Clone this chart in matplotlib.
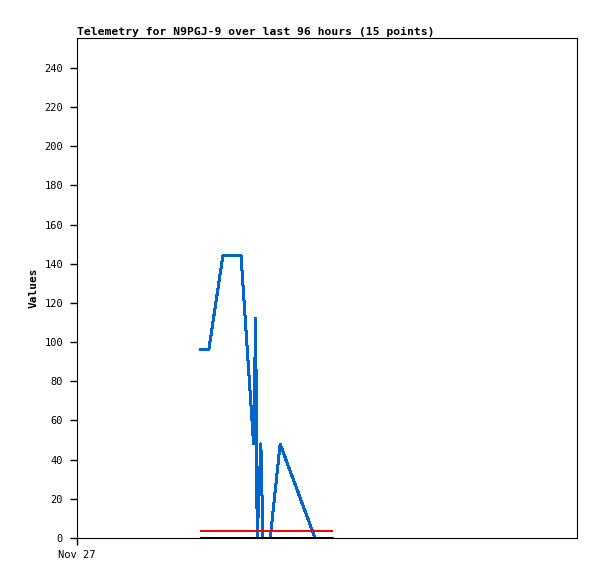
'''Telemetry plot for N9PGJ-9 over the last 96 hours.'''

# ----------------------------------------------------------------------------
# Modules

from matplotlib import pyplot as plt
import numpy as np

# ----------------------------------------------------------------------------
# Data (hours since Nov 27 00:00)

hours = [23.8, 25.3, 28.0, 31.5, 33.9, 34.3, 34.6, 35.3, 35.7, 37.1, 39.0,
         45.7, 47.0, 48.0, 49.0]
values_blue = [96, 96, 144, 144, 48, 112, 0, 48, 0, 0, 48, 0, 0, 0, 0]
values_red = [3.6] * 15
values_black = [0] * 15

y_ticks = list(range(0, 241, 20))
x_tick_labels = ['Nov 27']

# ----------------------------------------------------------------------------


def telemetry_plot():

    figure = plt.figure(figsize=(5.97, 5.79), dpi=100)
    ax = figure.add_axes([77 / 597, 41 / 579, 500 / 597, 500 / 579])

    # 2 px wide lines at 100 dpi
    lw = 2 * 72 / 100
    ax.plot(hours, values_blue, color='#0066CC', linewidth=lw,
            antialiased=False)
    ax.plot(hours, values_red, color='#FF0000', linewidth=lw,
            antialiased=False)
    ax.plot(hours, values_black, color='#000000', linewidth=lw,
            antialiased=False)

    ax.set_xlim(0, 96)
    ax.set_ylim(0, 255.3)
    ax.set_xticks([0])
    ax.set_xticklabels(x_tick_labels, family='DejaVu Sans Mono', fontsize=7.5)
    ax.set_yticks(y_ticks)
    ax.set_yticklabels([str(t) for t in y_ticks], family='DejaVu Sans Mono',
                       fontsize=7.5)
    ax.tick_params(length=5, width=1, direction='out')
    ax.tick_params(axis='y', pad=5)
    ax.tick_params(axis='x', pad=4)
    for spine in ax.spines.values():
        spine.set_linewidth(0.8)

    ax.set_ylabel('Values', family='DejaVu Sans Mono', fontweight='bold',
                  fontsize=8, labelpad=4)
    ax.set_title('Telemetry for N9PGJ-9 over last 96 hours (15 points)',
                 family='DejaVu Sans Mono', fontweight='bold', fontsize=8.2,
                 loc='left', pad=2)

    figure.savefig('out.png', dpi=100)

    return None

# ----------------------------------------------------------------------------


def main():

    telemetry_plot()

    return None

# ----------------------------------------------------------------------------


if __name__ == "__main__":
    main()
